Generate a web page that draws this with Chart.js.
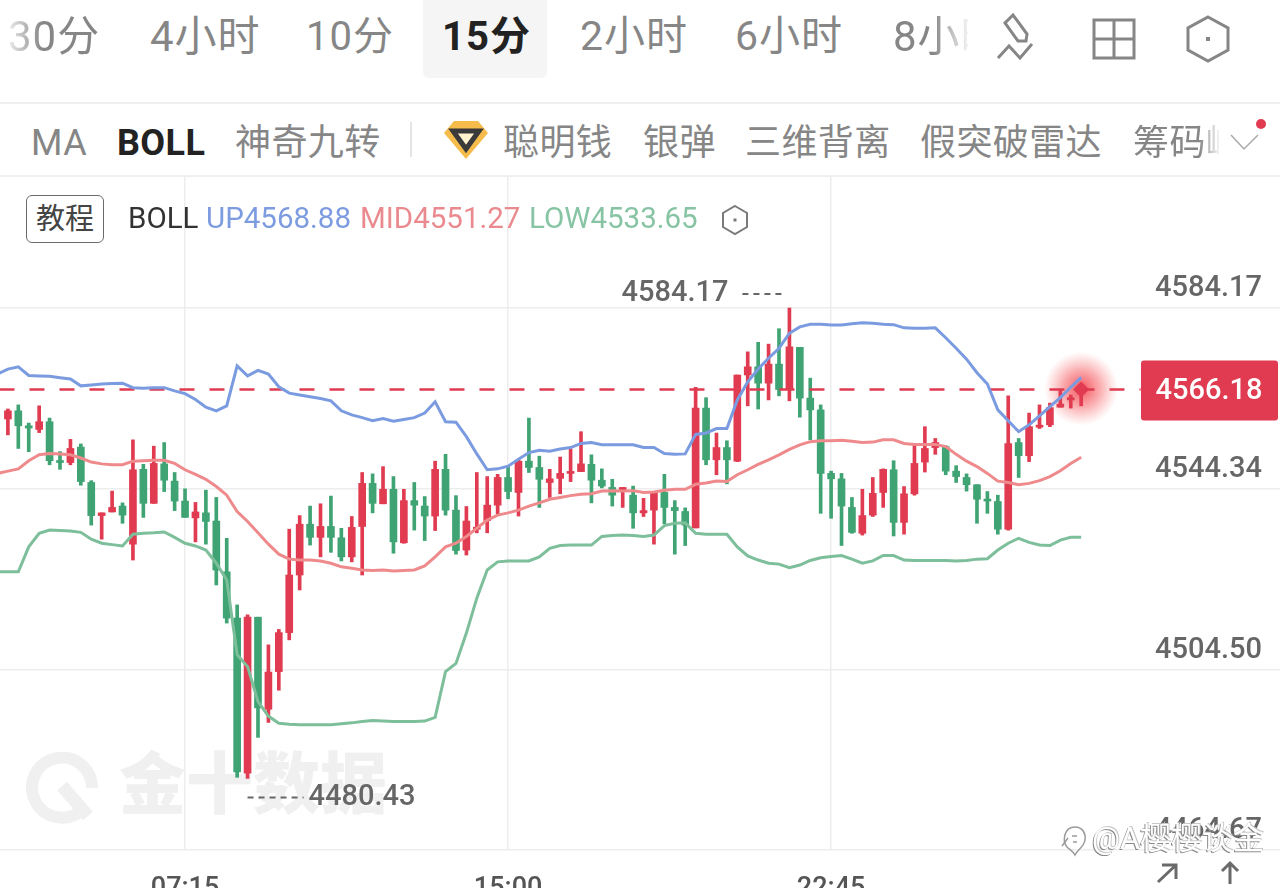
<!DOCTYPE html>
<html lang="zh-CN">
<head>
<meta charset="utf-8">
<title>BOLL 15分</title>
<script src="https://cdn.jsdelivr.net/npm/chart.js@4/dist/chart.umd.min.js"></script>
<style>
  html, body { margin: 0; padding: 0; background: #fff; width: 1280px; height: 888px; overflow: hidden; }
  body { position: relative; font-family: Roboto, "Noto Sans CJK SC", sans-serif; }
  .abs { position: absolute; white-space: nowrap; line-height: 1; }
  .tab { top: 16px; font-size: 42px; color: #868686; letter-spacing: 1px; }
  .ind { top: 125px; font-size: 36px; color: #868686; letter-spacing: .4px; }
  .rule { position: absolute; left: 0; width: 1280px; background: #efefef; }
  .legend { top: 204px; font-size: 29.5px; }
  #chartWrap { position: absolute; left: 0; top: 177px; width: 1280px; height: 711px; overflow: hidden; }
</style>
</head>
<body>

<!-- 周期栏 -->
<div class="abs" style="left:423px;top:0;width:124px;height:78px;background:#f5f5f5;border-radius:0 0 6px 6px"></div>
<div class="abs tab" style="left:8px;-webkit-mask-image:linear-gradient(90deg,rgba(0,0,0,.15),#000 34px)">30分</div>
<div class="abs tab" style="left:150px">4小时</div>
<div class="abs tab" style="left:306px;font-size:40px;top:17px">10分</div>
<div class="abs tab" style="left:442px;color:#222;font-weight:700;font-size:40px;top:17px">15分</div>
<div class="abs tab" style="left:580px;font-size:41px">2小时</div>
<div class="abs tab" style="left:735px;font-size:41px">6小时</div>
<div class="abs tab" style="left:893px;width:75px;overflow:hidden;-webkit-mask-image:linear-gradient(90deg,#000 40px,rgba(0,0,0,.1))">8小时</div>
<svg class="abs" style="left:990px;top:8px" width="250" height="56" fill="none" stroke="#868686" stroke-width="3">
  <path d="M23 7 L15 15 L28 33 L36 33 L37 26 Z"/>
  <path d="M8 50 L19 38 L30 50 L42 36"/>
  <rect x="104" y="12" width="40" height="38"/><path d="M124 12V50M104 31H144"/>
  <path d="M218 9 L238 20 V42 L218 53 L198 42 V20 Z"/><rect x="216" y="29" width="4" height="4" fill="#868686" stroke="none"/>
</svg>
<div class="rule" style="top:102px;height:2px"></div>

<!-- 指标栏 -->
<div class="abs ind" style="left:31px">MA</div>
<div class="abs ind" style="left:117px;color:#222;font-weight:700">BOLL</div>
<div class="abs ind" style="left:235px">神奇九转</div>
<div class="abs" style="left:410px;top:122px;width:2px;height:35px;background:#e4e4e4"></div>
<svg class="abs" style="left:444px;top:120px" width="46" height="40">
  <path d="M10 1 H34 L44 13 L22 39 L0 13 Z" fill="#f5bb4b"/>
  <path d="M9 11 H35 L22 29 Z" fill="#fff3d0" stroke="#3a3a3a" stroke-width="5"/>
</svg>
<div class="abs ind" style="left:503px">聪明钱</div>
<div class="abs ind" style="left:643px">银弹</div>
<div class="abs ind" style="left:745px">三维背离</div>
<div class="abs ind" style="left:920px">假突破雷达</div>
<div class="abs ind" style="left:1133px;width:86px;overflow:hidden;-webkit-mask-image:linear-gradient(90deg,#000 66px,rgba(0,0,0,.1))">筹码峰</div>
<svg class="abs" style="left:1228px;top:116px" width="40" height="40" fill="none">
  <path d="M3 19 L16 33 L30 19" stroke="#aaa" stroke-width="1.5"/><circle cx="33" cy="8" r="5" fill="#e03b50"/>
</svg>
<div class="rule" style="top:175px;height:2px"></div>

<!-- 水印放在画布下面 -->
<svg class="abs" style="left:26px;top:752px" width="76" height="74" fill="none" stroke="#f0f0f0" stroke-width="12">
  <path d="M56 58 A30 30 0 1 1 66 36"/><path d="M36 34 L62 64" stroke-width="13"/>
</svg>
<div class="abs" style="left:119px;top:752px;font-size:67px;font-weight:900;color:#f0f0f0">金十数据</div>

<div id="chartWrap"><canvas id="kline" width="1280" height="760"></canvas></div>

<!-- 图例 -->
<div class="abs" style="left:26px;top:195px;width:76px;height:46px;border:1.5px solid #6a6a6a;border-radius:6px;text-align:center;font-size:29px;line-height:46px;color:#444;background:#fff">教程</div>
<div class="abs legend" style="left:128px;color:#333">BOLL</div>
<div class="abs legend" style="left:206px;color:#7d9ce0">UP4568.88</div>
<div class="abs legend" style="left:360px;color:#ea8a8f">MID4551.27</div>
<div class="abs legend" style="left:529px;color:#87c4a3">LOW4533.65</div>
<svg class="abs" style="left:720px;top:204px" width="30" height="32" fill="none" stroke="#7a7a7a" stroke-width="2">
  <path d="M15 2 L27 9 V23 L15 30 L3 23 V9 Z"/><rect x="13.5" y="14.5" width="3" height="3" fill="#7a7a7a" stroke="none"/>
</svg>

<!-- 右下角 -->
<svg class="abs" style="left:1150px;top:858px" width="100" height="30" fill="none" stroke="#6a6a6a" stroke-width="3">
  <path d="M8 24 L26 7 M12 7 H26 V21"/><path d="M80 26 V5 M72 13 L80 5 L88 13"/>
</svg>
<svg class="abs" style="left:1058px;top:824px" width="30" height="34" fill="none" stroke="#9a9a9a" stroke-width="1.5">
  <path d="M17 3 C25 3 28 10 27 16 C26 23 20 25 17 31 C15 27 12 26 9 23 C4 17 6 3 17 3 Z"/><path d="M4 22 L10 14 M14 12 L19 12 M15 18 L19 18"/>
</svg>
<div class="abs" style="left:1092px;top:823px;font-size:31px;color:#fff;text-shadow:-1px 1px 0 #8a8a8a,1px -1px 0 #c8c8c8">@A樱樱谈金</div>

<script>
// ==========================================
// K线数据 (15分钟)
// ==========================================
const opens = [
  4559.7,4561.5,4558.2,4557.4,4559.1,4550.5,4550.1,4553.5,4545.7,4538.4,
  4539.2,4540.5,4532.1,4548.6,4541.1,4549.8,4546.0,4541.6,4537.9,4539.0,
  4537.2,4526.0,4515.8,4481.6,4516.0,4495.7,4504.0,4512.6,4525.3,4536.5,
  4533.6,4536.0,4533.5,4529.3,4536.0,4545.5,4541.0,4544.2,4532.4,4541.7,
  4540.5,4538.3,4548.6,4539.6,4530.8,4535.4,4537.3,4540.7,4546.8,4543.5,
  4550.4,4549.0,4545.7,4546.6,4547.7,4548.1,4549.7,4546.2,4544.6,4544.0,
  4542.9,4539.0,4539.6,4543.5,4540.2,4539.3,4535.7,4562.1,4550.7,4553.4,
  4550.4,4569.4,4571.2,4567.6,4571.8,4566.2,4575.5,4564.3,4561.7,4547.7,
  4546.5,4540.2,4534.5,4538.5,4543.5,4548.5,4536.9,4543.2,4550.2,4553.4,
  4553.6,4548.2,4546.8,4545.2,4541.8,4541.5,4535.4,4554.5,4551.6,4557.9,
  4558.4,4562.3,4563.9,4565.4
];
const highs = [
  4561.9,4562.8,4558.8,4562.6,4559.9,4552.5,4555.2,4554.2,4546.1,4539.0,
  4543.8,4541.2,4555.1,4549.7,4553.7,4554.5,4547.9,4544.3,4541.3,4544.0,
  4542.4,4533.4,4518.7,4516.5,4516.0,4509.9,4513.3,4535.4,4538.4,4540.5,
  4541.0,4542.7,4535.6,4538.2,4547.9,4547.6,4549.2,4547.0,4544.2,4545.7,
  4542.6,4550.4,4551.9,4542.8,4540.4,4547.9,4547.0,4547.5,4549.1,4550.7,
  4559.9,4551.5,4548.6,4551.3,4553.1,4556.9,4551.8,4548.7,4546.4,4544.6,
  4544.9,4542.2,4543.7,4547.5,4541.7,4540.1,4566.7,4564.4,4556.6,4554.9,
  4569.4,4574.5,4576.6,4576.2,4579.6,4584.17,4575.5,4568.7,4562.8,4548.2,
  4547.7,4542.4,4544.2,4546.8,4548.7,4550.5,4544.8,4554.0,4558.0,4555.4,
  4553.8,4549.4,4547.6,4545.2,4543.7,4542.9,4564.8,4555.4,4561.0,4562.8,
  4563.2,4566.1,4565.0,4567.2
];
const lows = [
  4556.2,4553.2,4552.5,4556.7,4549.6,4548.6,4549.6,4545.1,4536.3,4533.2,
  4539.2,4536.7,4528.6,4538.0,4541.1,4543.7,4539.5,4538.0,4532.6,4532.1,
  4523.1,4514.7,4480.7,4480.43,4489.5,4492.8,4499.9,4511.0,4522.0,4531.9,
  4529.3,4530.3,4528.4,4528.2,4525.3,4539.0,4541.0,4530.1,4532.3,4535.2,
  4532.9,4535.1,4538.5,4529.9,4529.7,4534.6,4534.6,4538.8,4542.1,4538.3,
  4547.9,4540.2,4542.4,4543.2,4545.9,4548.1,4541.2,4544.5,4540.5,4540.2,
  4535.6,4538.2,4532.1,4536.6,4529.9,4531.8,4535.7,4549.6,4547.4,4545.4,
  4550.3,4562.6,4561.9,4563.9,4564.8,4563.7,4560.1,4555.1,4538.9,4537.8,
  4531.8,4534.5,4534.1,4538.2,4540.2,4533.9,4534.3,4542.9,4548.0,4551.9,
  4547.4,4545.7,4543.8,4536.7,4538.9,4534.3,4535.2,4546.8,4550.3,4557.6,
  4558.0,4562.3,4562.1,4562.6
];
const closes = [
  4561.5,4558.2,4557.7,4559.1,4550.5,4550.1,4553.2,4545.9,4538.4,4539.0,
  4540.2,4538.5,4548.5,4541.1,4549.9,4546.2,4541.6,4538.0,4539.2,4537.1,
  4526.4,4515.8,4481.9,4516.0,4496.0,4503.9,4512.6,4525.3,4536.5,4533.6,
  4536.0,4533.6,4529.3,4535.8,4545.5,4541.1,4544.2,4532.6,4541.7,4540.7,
  4538.3,4548.6,4539.6,4530.7,4537.2,4535.6,4540.7,4546.8,4543.7,4550.4,
  4549.0,4546.4,4546.5,4547.7,4548.0,4549.8,4546.2,4544.9,4542.9,4544.6,
  4539.0,4539.5,4543.5,4540.2,4539.5,4536.3,4562.1,4550.7,4553.4,4550.7,
  4569.4,4571.2,4567.6,4571.8,4566.2,4575.6,4564.3,4561.7,4547.7,4546.5,
  4540.5,4534.7,4538.4,4543.3,4548.6,4536.9,4543.2,4549.9,4553.2,4554.5,
  4548.2,4547.0,4545.2,4542.0,4541.6,4535.4,4554.3,4551.6,4558.0,4558.2,
  4562.2,4563.0,4564.4,4566.18
];

// ==========================================
// BOLL 三条线 (比K线多一个最左边的点)
// ==========================================
const bollUp = [
  4569.6,4570.7,4571.2,4569.3,4569.2,4569.1,4568.8,4568.5,4567.0,4567.2,
  4567.4,4567.5,4567.6,4566.6,4566.5,4566.6,4566.6,4565.9,4565.3,4564.0,
  4562.3,4561.5,4562.6,4571.4,4569.2,4570.4,4569.6,4566.8,4565.4,4565.0,
  4564.6,4564.2,4563.7,4561.5,4560.6,4560.0,4559.3,4559.8,4559.2,4559.6,
  4560.0,4561.0,4563.5,4559.1,4559.0,4555.8,4552.0,4548.5,4548.7,4549.3,
  4550.8,4552.3,4552.8,4552.6,4553.1,4553.4,4554.3,4554.5,4554.0,4554.0,
  4554.0,4554.0,4553.4,4553.4,4552.1,4551.9,4552.0,4556.3,4556.6,4557.6,
  4557.6,4563.9,4567.9,4570.7,4573.1,4575.3,4578.6,4580.0,4580.6,4580.6,
  4580.4,4580.4,4580.7,4580.9,4580.8,4580.6,4580.5,4579.8,4579.7,4579.7,
  4579.8,4577.6,4575.3,4572.9,4569.9,4567.4,4561.7,4559.3,4556.9,4558.4,
  4560.4,4562.4,4564.4,4566.7,4568.88
];
const bollMid = [
  4547.7,4548.2,4548.7,4550.5,4551.8,4552.1,4552.0,4551.8,4551.1,4550.2,
  4549.8,4549.6,4549.6,4550.4,4550.5,4550.6,4550.6,4549.9,4548.5,4547.5,
  4546.4,4544.8,4542.9,4539.3,4537.1,4534.6,4532.1,4529.9,4528.8,4528.6,
  4528.6,4528.4,4527.9,4527.1,4526.8,4526.4,4526.3,4526.4,4526.2,4526.3,
  4526.4,4527.3,4529.3,4531.5,4532.3,4533.8,4535.6,4537.4,4538.5,4539.0,
  4539.6,4540.5,4541.2,4542.0,4542.4,4542.8,4543.1,4543.2,4543.8,4543.9,
  4543.8,4543.9,4543.5,4543.6,4544.0,4544.2,4544.2,4545.3,4545.6,4546.0,
  4545.9,4547.4,4548.5,4549.7,4550.7,4551.8,4553.0,4554.0,4554.7,4554.9,
  4554.9,4555.0,4554.8,4554.5,4554.6,4555.1,4555.1,4554.3,4554.1,4554.1,
  4554.1,4553.6,4551.9,4550.4,4549.2,4547.7,4546.0,4545.7,4545.2,4545.5,
  4546.1,4547.0,4548.3,4549.9,4551.27
];
const bollLow = [
  4526.0,4526.0,4526.0,4531.5,4534.5,4535.2,4535.1,4535.0,4534.7,4533.2,
  4532.3,4532.0,4531.7,4534.3,4534.5,4534.6,4534.8,4533.6,4532.3,4531.7,
  4530.8,4527.9,4524.2,4507.7,4505.1,4497.4,4494.2,4492.6,4492.4,4492.3,
  4492.3,4492.3,4492.3,4492.5,4492.7,4493.0,4493.2,4493.1,4493.0,4493.0,
  4493.0,4493.1,4493.9,4504.0,4505.8,4512.5,4520.2,4526.4,4528.2,4528.4,
  4528.4,4528.4,4529.3,4531.2,4531.8,4531.9,4531.9,4531.9,4533.8,4534.0,
  4534.1,4534.0,4533.8,4534.1,4536.2,4536.7,4536.8,4534.5,4534.3,4534.3,
  4534.3,4531.5,4529.5,4528.6,4527.9,4527.7,4526.9,4527.5,4528.5,4529.1,
  4529.4,4529.6,4528.8,4527.9,4528.4,4529.6,4529.6,4528.6,4528.5,4528.5,
  4528.5,4528.5,4528.4,4528.5,4528.8,4528.9,4530.8,4532.3,4533.4,4532.5,
  4531.9,4531.8,4533.0,4533.6,4533.65
];

const yTicks = [4584.17, 4544.34, 4504.50, 4464.67];
const timeTicks = [18, 49, 80];
const lastPrice = 4566.18;
const maxPrice = 4584.17;
const minPrice = 4480.43;

// 每根K线一个时间标签，从 02:45 开始，间隔 15 分钟
const times = bollUp.map((_, i) => {
  const m = (2 * 60 + 45 + i * 15) % 1440;
  return String(Math.floor(m / 60)).padStart(2, '0') + ':' + String(m % 60).padStart(2, '0');
});

const RED = '#e03b50';
const GREEN = '#3fa373';
const candleColors = opens.map((o, i) => (closes[i] >= o ? RED : GREEN));
const NUM_FONT = { family: 'Roboto', size: 29, weight: '500' };

// ==========================================
// 最新价光晕、最高最低价标注、最新价标签
// ==========================================
const priceMarks = {
  id: 'priceMarks',
  beforeDatasetsDraw(chart) {
    const { ctx, scales: { x, y } } = chart;
    const px = x.getPixelForValue(opens.length);
    const py = y.getPixelForValue(lastPrice) - 1;
    const glow = ctx.createRadialGradient(px, py, 0, px, py, 37);
    glow.addColorStop(0, 'rgba(240,50,60,.85)');
    glow.addColorStop(.5, 'rgba(245,90,95,.5)');
    glow.addColorStop(1, 'rgba(250,120,120,0)');
    ctx.save();
    ctx.fillStyle = glow;
    ctx.beginPath();
    ctx.arc(px, py, 37, 0, Math.PI * 2);
    ctx.fill();
    ctx.restore();
  },
  afterDatasetsDraw(chart) {
    const { ctx, scales: { x, y } } = chart;
    ctx.save();
    ctx.font = '500 29px Roboto';
    ctx.fillStyle = '#666';
    ctx.textBaseline = 'middle';

    // 最高价在K线左上方
    const hiX = x.getPixelForValue(highs.indexOf(maxPrice) + 1);
    const hiY = y.getPixelForValue(maxPrice) - 14;
    ctx.textAlign = 'right';
    ctx.fillText(maxPrice.toFixed(2), hiX - 61, hiY);

    // 最低价在K线右下方
    const loX = x.getPixelForValue(lows.indexOf(minPrice) + 1);
    const loY = y.getPixelForValue(minPrice) + 19;
    ctx.textAlign = 'left';
    ctx.fillText(minPrice.toFixed(2), loX + 61, loY);

    ctx.strokeStyle = '#666';
    ctx.lineWidth = 2;
    ctx.setLineDash([6, 5]);
    ctx.beginPath();
    ctx.moveTo(hiX - 47, hiY);
    ctx.lineTo(hiX - 4, hiY);
    ctx.moveTo(loX, loY);
    ctx.lineTo(loX + 56, loY);
    ctx.stroke();
    ctx.setLineDash([]);

    // 右侧红色价格框
    const boxY = y.getPixelForValue(lastPrice) + 1;
    ctx.fillStyle = RED;
    ctx.beginPath();
    ctx.roundRect(1141, boxY - 30, 137, 60, 3);
    ctx.fill();
    ctx.fillStyle = '#fff';
    ctx.textAlign = 'center';
    ctx.fillText(lastPrice.toFixed(2), 1209, boxY + 1);
    ctx.restore();
  }
};

const candleIndex = opens.map((_, i) => i + 1);
const lineIndex = times.map((_, i) => i);

// 坐标轴不留额外边距，绘图区铺满画布
function clearPadding(scale) {
  scale.paddingLeft = 0;
  scale.paddingRight = 0;
  scale.paddingTop = 0;
  scale.paddingBottom = 0;
}

new Chart(document.getElementById('kline'), {
  type: 'bar',
  plugins: [priceMarks],
  data: {
    datasets: [
      {
        label: 'wick',
        order: 9,
        data: candleIndex.map((j, i) => ({ x: j, y: [lows[i], highs[i]] })),
        backgroundColor: candleColors,
        barThickness: 3,
        grouped: false
      },
      {
        label: 'body',
        order: 8,
        data: candleIndex.map((j, i) => ({ x: j, y: [opens[i], closes[i]] })),
        backgroundColor: candleColors,
        barThickness: 7,
        minBarLength: 2,
        grouped: false
      },
      {
        type: 'line',
        label: 'head',
        order: 7,
        data: [{ x: opens.length, y: lastPrice }],
        pointStyle: 'rectRot',
        pointRadius: 8,
        pointBackgroundColor: RED,
        pointBorderWidth: 0,
        showLine: false
      },
      {
        type: 'line',
        label: 'last',
        order: 4,
        data: [{ x: 0, y: lastPrice }, { x: 109.7, y: lastPrice }],
        borderColor: RED,
        borderWidth: 2.5,
        borderDash: [15, 15],
        borderDashOffset: -2,
        pointRadius: 0
      },
      {
        type: 'line',
        label: 'LOW',
        order: 3,
        data: lineIndex.map(j => ({ x: j, y: bollLow[j] })),
        borderColor: '#7dbe9b',
        borderWidth: 3,
        pointRadius: 0,
        tension: 0
      },
      {
        type: 'line',
        label: 'MID',
        order: 2,
        data: lineIndex.map(j => ({ x: j, y: bollMid[j] })),
        borderColor: '#ef8a8c',
        borderWidth: 3,
        pointRadius: 0,
        tension: 0
      },
      {
        type: 'line',
        label: 'UP',
        order: 1,
        data: lineIndex.map(j => ({ x: j, y: bollUp[j] })),
        borderColor: '#7b9be0',
        borderWidth: 3,
        pointRadius: 0,
        tension: 0
      }
    ]
  },
  options: {
    responsive: false,
    animation: false,
    devicePixelRatio: 1,
    layout: { padding: 0, autoPadding: false },
    plugins: { legend: { display: false }, tooltip: { enabled: false } },
    scales: {
      x: {
        type: 'linear',
        bounds: 'data',
        offset: false,
        min: 0.242,
        max: 123.08,
        grid: { color: '#ededed', lineWidth: 1.5, drawTicks: false, offset: false },
        border: { display: false },
        afterFit(scale) { scale.height = 87; clearPadding(scale); },
        afterBuildTicks(scale) { scale.ticks = timeTicks.map(v => ({ value: v })); },
        ticks: {
          autoSkip: false,
          maxRotation: 0,
          padding: 23,
          color: '#555',
          font: { family: 'Roboto', size: 27, weight: '500' },
          callback: v => times[v]
        }
      },
      y: {
        position: 'right',
        bounds: 'data',
        min: 4464.67,
        max: 4613.05,
        grid: { color: '#ededed', lineWidth: 1.5, drawTicks: false },
        border: { display: false },
        afterFit(scale) { scale.width = 0; clearPadding(scale); },
        afterBuildTicks(scale) { scale.ticks = yTicks.map(v => ({ value: v })); },
        ticks: {
          mirror: true,
          padding: -18,
          labelOffset: -19,
          color: '#666',
          font: NUM_FONT,
          callback: v => v.toFixed(2)
        }
      }
    }
  }
});
</script>
</body>
</html>
